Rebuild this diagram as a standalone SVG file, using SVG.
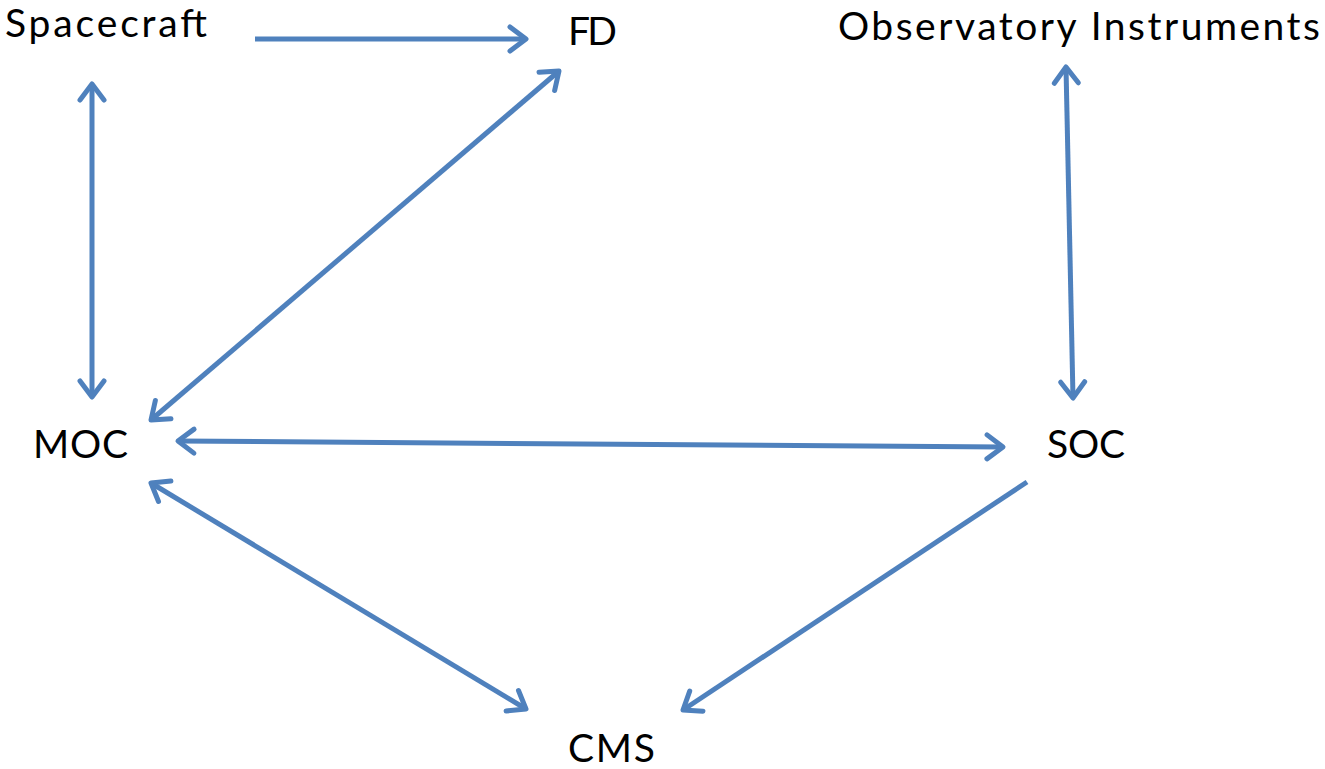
<svg xmlns="http://www.w3.org/2000/svg" width="1325" height="769" viewBox="0 0 1325 769">
<style>
.lbl{font-family:Lato,"Open Sans","Liberation Sans",sans-serif;font-size:39px;fill:#000}
.c{stroke:#4F81BD;stroke-width:5;fill:none}
</style>
<defs>
<marker id="ah" markerUnits="userSpaceOnUse" markerWidth="28" markerHeight="32" viewBox="0 0 28 32" refX="21" refY="16" orient="auto-start-reverse">
<path d="M5,4 L21,16 L5,28" fill="none" stroke="#4F81BD" stroke-width="5" stroke-linecap="round" stroke-linejoin="round"/>
</marker>
</defs>
<rect width="1325" height="769" fill="#fff"/>
<g id="connectors">
<line class="c" x1="255" y1="39" x2="526" y2="39" marker-end="url(#ah)"/>
<line class="c" x1="92" y1="84" x2="92" y2="397" marker-start="url(#ah)" marker-end="url(#ah)"/>
<line class="c" x1="151" y1="420" x2="559" y2="71" marker-start="url(#ah)" marker-end="url(#ah)"/>
<line class="c" x1="178" y1="441" x2="1003" y2="447" marker-start="url(#ah)" marker-end="url(#ah)"/>
<line class="c" x1="1066" y1="67" x2="1073" y2="398" marker-start="url(#ah)" marker-end="url(#ah)"/>
<line class="c" x1="151" y1="483" x2="526" y2="709" marker-start="url(#ah)" marker-end="url(#ah)"/>
<line class="c" x1="1027" y1="482" x2="683" y2="710" marker-end="url(#ah)"/>
</g>
<g id="spacecraft"><text class="lbl" x="5" y="37" textLength="202">Spacecraft</text></g>
<g id="fd"><text class="lbl" x="568" y="45" textLength="49">FD</text></g>
<g id="observatory"><text class="lbl" x="838" y="40" textLength="482">Observatory Instruments</text></g>
<g id="moc"><text class="lbl" x="33" y="458" textLength="95">MOC</text></g>
<g id="soc"><text class="lbl" x="1047" y="458" textLength="78">SOC</text></g>
<g id="cms"><text class="lbl" x="568" y="762" textLength="87">CMS</text></g>
</svg>
